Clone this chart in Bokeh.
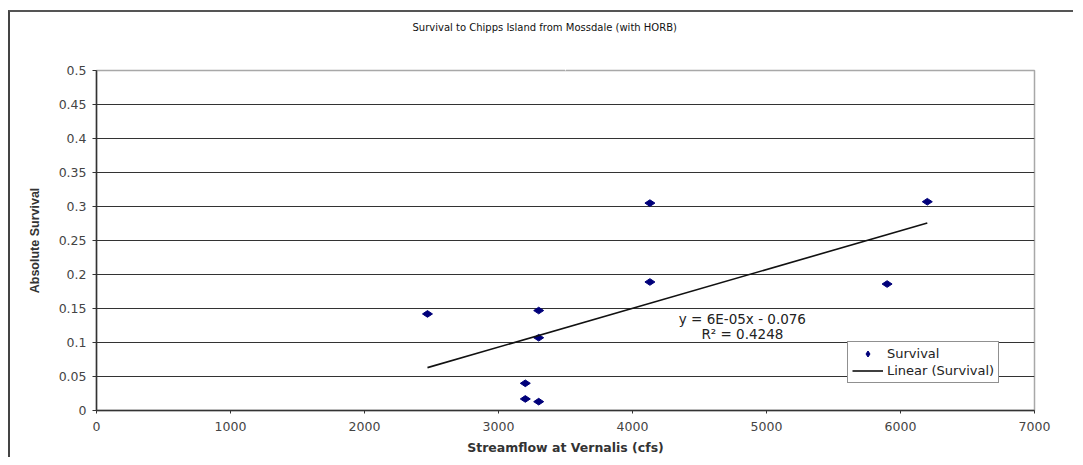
import math
import numpy as np
from bokeh.plotting import figure
from bokeh.models import Label, Legend, LegendItem, FixedTicker, Range1d, LinearAxis
from bokeh.embed import file_html
from bokeh.resources import INLINE

# ---- data ----
flow_cfs = [2470, 3200, 3200, 3300, 3300, 3300, 4130, 4130, 5900, 6200]
survival = [0.142, 0.040, 0.017, 0.013, 0.147, 0.107, 0.305, 0.189, 0.186, 0.307]

x_ticks = [0, 1000, 2000, 3000, 4000, 5000, 6000, 7000]
y_ticks = [0, 0.05, 0.1, 0.15, 0.2, 0.25, 0.3, 0.35, 0.4, 0.45, 0.5]
y_tick_labels = ["0", "0.05", "0.1", "0.15", "0.2", "0.25", "0.3", "0.35", "0.4", "0.45", "0.5"]

title_text = "Survival to Chipps Island from Mossdale (with HORB)"
x_label = "Streamflow at Vernalis (cfs)"
y_label = "Absolute Survival"
eq_text = "y = 6E-05x - 0.076"
r2_text = "R\u00b2 = 0.4248"

# linear trend derived from the data
slope, intercept = np.polyfit(flow_cfs, survival, 1)
trend_x = [min(flow_cfs), max(flow_cfs)]
trend_y = [slope * v + intercept for v in trend_x]

FONT = "DejaVu Sans"

p = figure(width=1065, height=447, output_backend="svg", toolbar_location=None,
           x_range=Range1d(0, 7000), y_range=Range1d(0, 0.5),
           min_border_left=86, min_border_right=41, min_border_top=58, min_border_bottom=49,
           background_fill_color="white", border_fill_color="white")
p.styles = {"border-left": "2px solid #444", "border-top": "2px solid #555",
            "margin-top": "10px", "margin-left": "8px"}

p.outline_line_color = "#a8a8a8"
p.outline_line_width = 1.5

# axes
p.xaxis.ticker = FixedTicker(ticks=x_ticks)
p.yaxis.ticker = FixedTicker(ticks=y_ticks)
p.yaxis.major_label_overrides = {t: s for t, s in zip(y_ticks, y_tick_labels)}
for ax in (p.xaxis[0], p.yaxis[0]):
    ax.axis_line_color = "#333333"
    ax.axis_line_width = 1.5
    ax.major_tick_line_color = "#333333"
    ax.major_tick_in = 0
    ax.minor_tick_line_color = None
    ax.major_label_text_font = FONT
    ax.major_label_text_font_size = "12.5px"
    ax.major_label_text_color = "#444444"
    ax.axis_label_text_font_style = "bold"
    ax.axis_label_text_color = "#333333"
p.xaxis.major_tick_out = 3
p.xaxis.major_label_standoff = 8
p.xaxis.axis_label = x_label
p.xaxis.axis_label_text_font = FONT
p.xaxis.axis_label_text_font_size = "12.5px"
p.xaxis.axis_label_standoff = 6
p.yaxis.major_tick_out = 4
p.yaxis.major_label_standoff = 6
p.yaxis.axis_label = y_label
p.yaxis.axis_label_text_font = "Liberation Sans"
p.yaxis.axis_label_text_font_size = "12.5px"
p.yaxis.axis_label_standoff = 14

# invisible spacer (white tick on white, empty label) between the frame and the title
spacer = LinearAxis(ticker=FixedTicker(ticks=[3500]), major_label_overrides={3500: ""},
                    axis_line_color=None, major_tick_line_color="white",
                    minor_tick_line_color=None, major_tick_in=0, major_tick_out=33,
                    minor_tick_in=0, minor_tick_out=0, major_label_standoff=0,
                    major_label_text_font_size="0px")
p.add_layout(spacer, "above")

# title, positioned over the chart area's centre
p.title.text = title_text
p.title.align = "left"
p.title.offset = 316
p.title.standoff = 10
p.title.text_font = FONT
p.title.text_font_size = "10px"
p.title.text_font_style = "normal"
p.title.text_color = "#111111"

# grid
p.xgrid.grid_line_color = None
p.ygrid.ticker = FixedTicker(ticks=y_ticks[1:-1])
p.ygrid.grid_line_color = "#333333"
p.ygrid.grid_line_width = 1.2

# glyphs
pts = p.scatter(flow_cfs, survival, marker="diamond", size=10, angle=math.pi / 2,
                fill_color="#00007a", line_color="#00007a")
ln = p.line(trend_x, trend_y, line_color="#111111", line_width=1.6)

legend = Legend(items=[LegendItem(label="Survival", renderers=[pts]),
                       LegendItem(label="Linear (Survival)", renderers=[ln])],
                location=(751, 27), orientation="vertical",
                border_line_color="#222222", border_line_width=1.2,
                background_fill_color="white", background_fill_alpha=1.0,
                label_text_font=FONT, label_text_font_size="13px", label_text_color="#222222",
                glyph_width=31, glyph_height=15, label_height=15, label_standoff=4,
                spacing=2, padding=4, margin=0)
p.add_layout(legend, "center")

# regression annotation
p.add_layout(Label(x=4820, y=0.135, text=eq_text, text_align="center", text_baseline="middle",
                   text_font=FONT, text_font_size="13.5px", text_color="#222222"))
p.add_layout(Label(x=4820, y=0.112, text=r2_text, text_align="center", text_baseline="middle",
                   text_font=FONT, text_font_size="13.5px", text_color="#222222"))

open("out.html", "w").write(file_html(p, INLINE))
